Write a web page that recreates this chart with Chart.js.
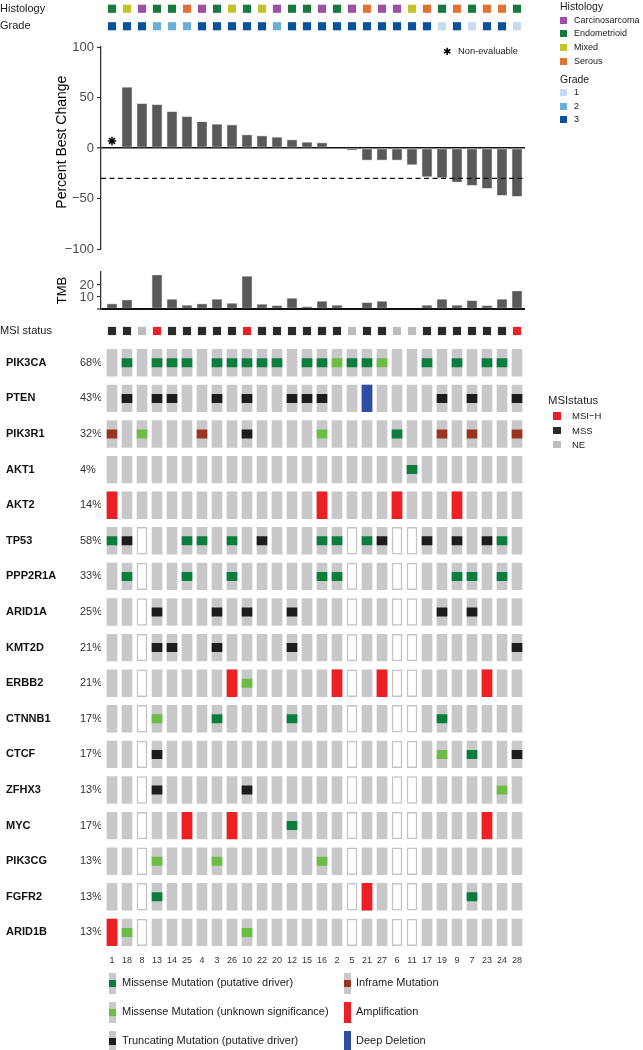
<!DOCTYPE html>
<html><head><meta charset="utf-8">
<script src="https://cdn.jsdelivr.net/npm/chart.js@4.4.1/dist/chart.umd.min.js"></script>
<style>
html,body{margin:0;padding:0;background:#fff;}
body{width:643px;height:1050px;position:relative;overflow:hidden;font-family:"Liberation Sans",Arial,Helvetica,sans-serif;color:#1a1a1a;}
.box{position:absolute;left:0;width:643px;}
.box canvas{display:block;}
.t{position:absolute;white-space:nowrap;}
.sq{position:absolute;}
</style></head><body>
<script>
// ---------------- DATA ----------------
const patients = ['1','18','8','13','14','25','4','3','26','10','22','20','12','15','16','2','5','21','27','6','11','17','19','9','7','23','24','28'];
const histology = ['Endometrioid','Mixed','Carcinosarcoma','Endometrioid','Endometrioid','Serous','Carcinosarcoma','Endometrioid','Mixed','Endometrioid','Mixed','Carcinosarcoma','Endometrioid','Endometrioid','Carcinosarcoma','Endometrioid','Carcinosarcoma','Serous','Carcinosarcoma','Carcinosarcoma','Mixed','Serous','Endometrioid','Serous','Endometrioid','Serous','Serous','Endometrioid'];
const grade = [3,3,3,2,2,2,3,3,3,3,3,2,3,3,3,3,3,3,3,3,3,3,1,3,1,3,3,1];
const bestChange = [null,60,44,43,36,31,26,23.5,23,13,12,10.5,8,5.6,5,0,-2,-12,-12,-12,-16.5,-28.4,-29.4,-33.7,-37,-40,-47,-48];
const nonEvaluable = ['1'];
const nonEvaluableLevel = 7;
const responseThreshold = -30;
const tmb = [4.2,7.5,null,28.3,8,3,4.2,8,4.7,27.2,3.9,2.8,8.9,2,6.4,3,null,5.3,6.4,null,null,3,8,3,7,2.8,8,15];
const msiStatus = ['MSS','MSS','NE','MSI-H','MSS','MSS','MSS','MSS','MSS','MSI-H','MSS','MSS','MSS','MSS','MSS','MSS','NE','MSS','MSS','NE','NE','MSS','MSS','MSS','MSS','MSS','MSS','MSI-H'];
const genes = ['PIK3CA','PTEN','PIK3R1','AKT1','AKT2','TP53','PPP2R1A','ARID1A','KMT2D','ERBB2','CTNNB1','CTCF','ZFHX3','MYC','PIK3CG','FGFR2','ARID1B'];
const genePct = ['68%','43%','32%','4%','14%','58%','33%','25%','21%','21%','17%','17%','13%','17%','13%','13%','13%'];
// codes: . none, x not profiled, M missense driver, U missense unknown, T truncating, I inframe, A amplification, D deep deletion
const PIK3CA  = [...'.M.MMM.MMMMM.MMUMMU..M.M.MM.'];
const PTEN    = [...'.T.TT..T.T..TTT..D....T.T..T'];
const PIK3R1  = [...'I.U...I..T....U....M..I.I..I'];
const AKT1    = [...'....................M.......'];
const AKT2    = [...'A.............A....A...A....'];
const TP53    = [...'MTx..MM.M.T...MMxMTxxT.T.TM.'];
const PPP2R1A = [...'.Mx..M..M.....MMx..xx..MM.M.'];
const ARID1A  = [...'..xT...T.T..T...x..xx.T.T...'];
const KMT2D   = [...'..xTT..T....T...x..xx......T'];
const ERBB2   = [...'..x.....AU.....Ax.Axx....A..'];
const CTNNB1  = [...'..xU...M....M...x..xx.M.....'];
const CTCF    = [...'..xT............x..xx.U.M..T'];
const ZFHX3   = [...'..xT.....T......x..xx.....U.'];
const MYC     = [...'..x..A..A...M...x..xx....A..'];
const PIK3CG  = [...'..xU...U......U.x..xx.......'];
const FGFR2   = [...'..xM............xA.xx...M...'];
const ARID1B  = [...'AUx......U......x..xx.......'];
const geneRows = [PIK3CA,PTEN,PIK3R1,AKT1,AKT2,TP53,PPP2R1A,ARID1A,KMT2D,ERBB2,CTNNB1,CTCF,ZFHX3,MYC,PIK3CG,FGFR2,ARID1B];
const annotationRows = ['Histology','Grade'];
const histLevels = ['Carcinosarcoma','Endometrioid','Mixed','Serous'];
const gradeLevels = [1,2,3];
const msiLevels = ['MSI-H','MSS','NE'];
const msiLabels = ['MSI\u2212H','MSS','NE'];
const tmbTicks = [0,10,20];
const altLegend = [['M','Missense Mutation (putative driver)'],['U','Missense Mutation (unknown significance)'],['T','Truncating Mutation (putative driver)'],['I','Inframe Mutation'],['A','Amplification'],['D','Deep Deletion']];

// ---------------- STYLE ----------------
const histColors = {Carcinosarcoma:'#9d4ea5', Endometrioid:'#17793c', Mixed:'#c3c42c', Serous:'#e07234'};
const gradeColors = {1:'#c6dbef', 2:'#6baed6', 3:'#0a519c'};
const msiColors = {'MSI-H':'#ec2027', MSS:'#2a2a2a', NE:'#bdbdbd'};
const altColors = {M:'#0b7e3d', U:'#6cbd45', T:'#1d1d1d', I:'#9b3520', A:'#ee2024', D:'#2e4ea3'};
const CELL_GRAY = '#c8c8ca';
const BAR_GRAY = '#595959';

Chart.defaults.font.family = '"Liberation Sans", Arial, Helvetica, sans-serif';
Chart.defaults.color = '#333';

const X_MIN = 1 - 11/15, X_MAX = 28 + 8/15;
const xHidden = () => ({type:'linear', min:X_MIN, max:X_MAX, offset:false, display:false, grid:{display:false}});
const PAD = 20;

function mk(top, height, cfg){
  const d = document.createElement('div'); d.className='box';
  d.style.top = top+'px'; d.style.height = height+'px';
  const c = document.createElement('canvas'); c.width = 643; c.height = Math.round(height);
  c.style.width='643px'; c.style.height=Math.round(height)+'px';
  d.appendChild(c); document.body.appendChild(d);
  return new Chart(c, cfg);
}
function common(extra){
  return Object.assign({responsive:false, animation:false, events:[], devicePixelRatio:1,
    layout:{padding:{left:0,right:118,top:PAD,bottom:PAD}},
    plugins:{legend:{display:false}, tooltip:{enabled:false}}}, extra);
}
const zeroGrid = {
  color: c => (c.tick && c.tick.value === 0) ? '#111' : 'rgba(0,0,0,0)',
  lineWidth: c => (c.tick && c.tick.value === 0) ? 1.6 : 1,
  tickColor:'#333', tickWidth:1.2, tickLength:4, drawTicks:true, drawOnChartArea:true
};
const minusFmt = v => v < 0 ? '\u2212' + Math.abs(v) : String(v);

// ---------- Top annotation (Histology / Grade) ----------
{
  const top = 0, bottom = 35;
  mk(top-PAD, bottom-top+2*PAD, {type:'bar', data:{datasets:[
    {data: histology.map((h,i)=>({x:i+1, y:[-0.214,0.214], v:h})), backgroundColor: c=>c.raw?histColors[c.raw.v]:'#000'},
    {data: grade.map((g,i)=>({x:i+1, y:[1-0.214,1+0.214], v:g})), backgroundColor: c=>c.raw?gradeColors[c.raw.v]:'#000'}
  ]}, options: common({datasets:{bar:{barThickness:7.5, grouped:false, borderWidth:0}},
    scales:{x:xHidden(), y:{min:-0.5, max:1.5, reverse:true,
      afterBuildTicks:s=>{s.ticks=annotationRows.map((r,i)=>({value:i}));},
      ticks:{autoSkip:false, callback:v=>annotationRows[v], crossAlign:'far', color:'#1a1a1a', font:{size:11}, padding:0},
      grid:{display:false, drawTicks:false}, border:{display:false}, afterFit:s=>{s.width=101;}}}})});
}

// ---------- Waterfall ----------
{
  const top = 46.7, bottom = 249;
  mk(top-PAD, bottom-top+2*PAD, {type:'bar', data:{datasets:[
    {type:'line', data:[{x:X_MIN,y:responseThreshold},{x:X_MAX,y:responseThreshold}], borderColor:'#111', borderWidth:1.2, borderDash:[5,3.5], pointRadius:0, order:0},
    {type:'line', showLine:false, data: nonEvaluable.map(p=>({x:patients.indexOf(p)+1, y:nonEvaluableLevel})), pointStyle:'star', pointRadius:4.2, borderColor:'#000', pointBorderWidth:1.5, order:0},
    {data: bestChange.map((v,i)=>({x:i+1, y:v})), backgroundColor:BAR_GRAY, borderColor:'#bdbdbd', borderWidth:0.7, borderSkipped:false, barThickness:10, grouped:false, order:1}
  ]}, options: common({scales:{x:xHidden(), y:{min:-100, max:100,
      ticks:{stepSize:50, autoSkip:false, color:'#4d4d4d', font:{size:13}, padding:3, callback:minusFmt},
      grid: zeroGrid, border:{display:true, color:'#333', width:1.3},
      title:{display:true, text:'\u00a0\u00a0\u00a0Percent Best Change', color:'#000', font:{size:14}, padding:{top:53.6,bottom:0}},
      afterFit:s=>{s.width=101;}}}})});
}

// ---------- TMB ----------
{
  const top = 272.3, bottom = 309.3;
  mk(top-PAD, bottom-top+2*PAD, {type:'bar', data:{datasets:[
    {data: tmb.map((v,i)=>({x:i+1, y:v})), backgroundColor:BAR_GRAY, borderColor:'#bdbdbd', borderWidth:0.7, borderSkipped:false, barThickness:10, grouped:false}
  ]}, options: common({scales:{x:xHidden(), y:{min:0, max:30.8,
      afterBuildTicks:s=>{s.ticks=tmbTicks.map(v=>({value:v}));},
      ticks:{autoSkip:false, color:'#4d4d4d', font:{size:13}, padding:3, callback:v=>v===0?'':String(v)},
      grid: Object.assign({}, zeroGrid, {lineWidth: c=>(c.tick&&c.tick.value===0)?2:1}),
      border:{display:true, color:'#333', width:1.3},
      title:{display:true, text:'TMB', color:'#000', font:{size:13}, padding:{top:54.2,bottom:0}},
      afterFit:s=>{s.width=101;}}}})});
}

// ---------- MSI status ----------
{
  const top = 322, bottom = 340;
  mk(top-PAD, bottom-top+2*PAD, {type:'bar', data:{datasets:[
    {data: msiStatus.map((s,i)=>({x:i+1, y:[-0.21,0.21], v:s})), backgroundColor: c=>c.raw?msiColors[c.raw.v]:'#000'}
  ]}, options: common({datasets:{bar:{barThickness:7.5, grouped:false, borderWidth:0}},
    scales:{x:xHidden(), y:{min:-0.5, max:0.5, reverse:true,
      afterBuildTicks:s=>{s.ticks=[{value:0}];},
      ticks:{autoSkip:false, callback:()=>'MSI status', crossAlign:'far', color:'#1a1a1a', font:{size:11}, padding:0},
      grid:{display:false, drawTicks:false}, border:{display:false}, afterFit:s=>{s.width=101;}}}})});
}

// ---------- Oncoprint ----------
{
  const top = 345.2, bottom = 950.5;
  const xPad = 4.5;
  const xAxisH = 2*xPad + 10.8;
  const H = 0.375, h = 0.117;
  const cells = [], full = [], marks = [];
  geneRows.forEach((row, r) => row.forEach((code, c) => {
    cells.push({x:c+1, y:[r-H, r+H], code});
    if (code === 'A' || code === 'D') full.push({x:c+1, y:[r-H, r+H], code});
    if ('MUTI'.includes(code)) marks.push({x:c+1, y:[r-h, r+h], code});
  }));
  const rowTicks = s => { s.ticks = genes.map((g,i)=>({value:i})); };
  mk(top-PAD, bottom-top+2*PAD+xAxisH, {type:'bar', data:{datasets:[
    {data: marks, backgroundColor: c=>c.raw?altColors[c.raw.code]:'#000', borderWidth:0, order:1},
    {data: full, backgroundColor: c=>c.raw?altColors[c.raw.code]:'#000', borderWidth:0, order:2},
    {data: cells, backgroundColor: c=>(c.raw && c.raw.code==='x')?'#ffffff':CELL_GRAY,
      borderColor: c=>(c.raw && c.raw.code==='x')?'#c4c4c4':'rgba(0,0,0,0)',
      borderWidth: c=>(c.raw && c.raw.code==='x')?1.5:0, borderSkipped:false, order:3}
  ]}, options: common({layout:{padding:{left:6,right:118,top:PAD,bottom:PAD}},
    datasets:{bar:{barThickness:10, grouped:false}},
    scales:{
      x:{type:'linear', min:X_MIN, max:X_MAX, offset:false,
        afterBuildTicks:s=>{s.ticks=patients.map((p,i)=>({value:i+1}));},
        ticks:{autoSkip:false, maxRotation:0, minRotation:0, callback:v=>patients[v-1], font:{size:9}, color:'#333', padding:xPad},
        grid:{display:false, drawTicks:false}, border:{display:false}},
      y:{type:'linear', position:'left', weight:0, min:-0.5, max:16.5, reverse:true,
        afterBuildTicks:rowTicks,
        ticks:{autoSkip:false, callback:v=>genePct[v], crossAlign:'far', font:{size:11}, color:'#333', padding:0},
        grid:{display:false, drawTicks:false}, border:{display:false}, afterFit:s=>{s.width=21;}},
      yGene:{type:'linear', position:'left', weight:1, min:-0.5, max:16.5, reverse:true,
        afterBuildTicks:rowTicks,
        ticks:{autoSkip:false, callback:v=>genes[v], crossAlign:'far', font:{size:11, weight:'bold'}, color:'#111', padding:0},
        grid:{display:false, drawTicks:false}, border:{display:false}, afterFit:s=>{s.width=74;}}
    }})});
}

// ---------------- HTML legends ----------------
function text(x, yc, str, size, opts={}){
  const el = document.createElement('div'); el.className='t';
  el.textContent = str;
  el.style.left = x+'px'; el.style.top = (yc - size*0.6)+'px';
  el.style.fontSize = size+'px'; el.style.lineHeight = (size*1.2)+'px';
  if (opts.weight) el.style.fontWeight = opts.weight;
  el.style.color = opts.color || '#1a1a1a';
  if (opts.family) el.style.fontFamily = opts.family;
  document.body.appendChild(el); return el;
}
function rect(x, y, w, hh, color){
  const el = document.createElement('div'); el.className='sq';
  el.style.left=x+'px'; el.style.top=y+'px'; el.style.width=w+'px'; el.style.height=hh+'px';
  el.style.background=color;
  document.body.appendChild(el); return el;
}
// Histology / Grade legend
text(560, 6, 'Histology', 10.5);
histLevels.forEach((l,i)=>{ const y=20+13.7*i; rect(559.5, y-3.5, 7, 7, histColors[l]); text(574, y, l, 9); });
text(560, 79, 'Grade', 10.5);
gradeLevels.forEach((g,i)=>{ const y=92.5+13.5*i; rect(559.5, y-3.5, 7, 7, gradeColors[g]); text(574, y, String(g), 9); });
// Non-evaluable
text(443, 51.5, '\u2731', 10, {family:'"DejaVu Sans", sans-serif', color:'#000'});
text(458, 51.5, 'Non-evaluable', 9.3);
// MSI status legend
text(548, 401, 'MSIstatus', 11.3);
msiLevels.forEach((l,i)=>{ const y=416+14.3*i; rect(553, y-3.75, 7.5, 7.5, msiColors[l]); text(572, y, msiLabels[i], 9.5); });
// Alteration legend
altLegend.forEach(([code,label],i)=>{
  const col = i<3?0:1, row = i%3;
  const ix = col===0?109:343.5, tx = col===0?122:356, yc = 983+29*row;
  if (code==='A' || code==='D') rect(ix, yc-10.5, 7, 21, altColors[code]);
  else { rect(ix, yc-10.5, 7, 21, CELL_GRAY); rect(ix, yc-3.5, 7, 7, altColors[code]); }
  text(tx, yc, label, 11, {color:'#222'});
});
</script>
</body></html>
